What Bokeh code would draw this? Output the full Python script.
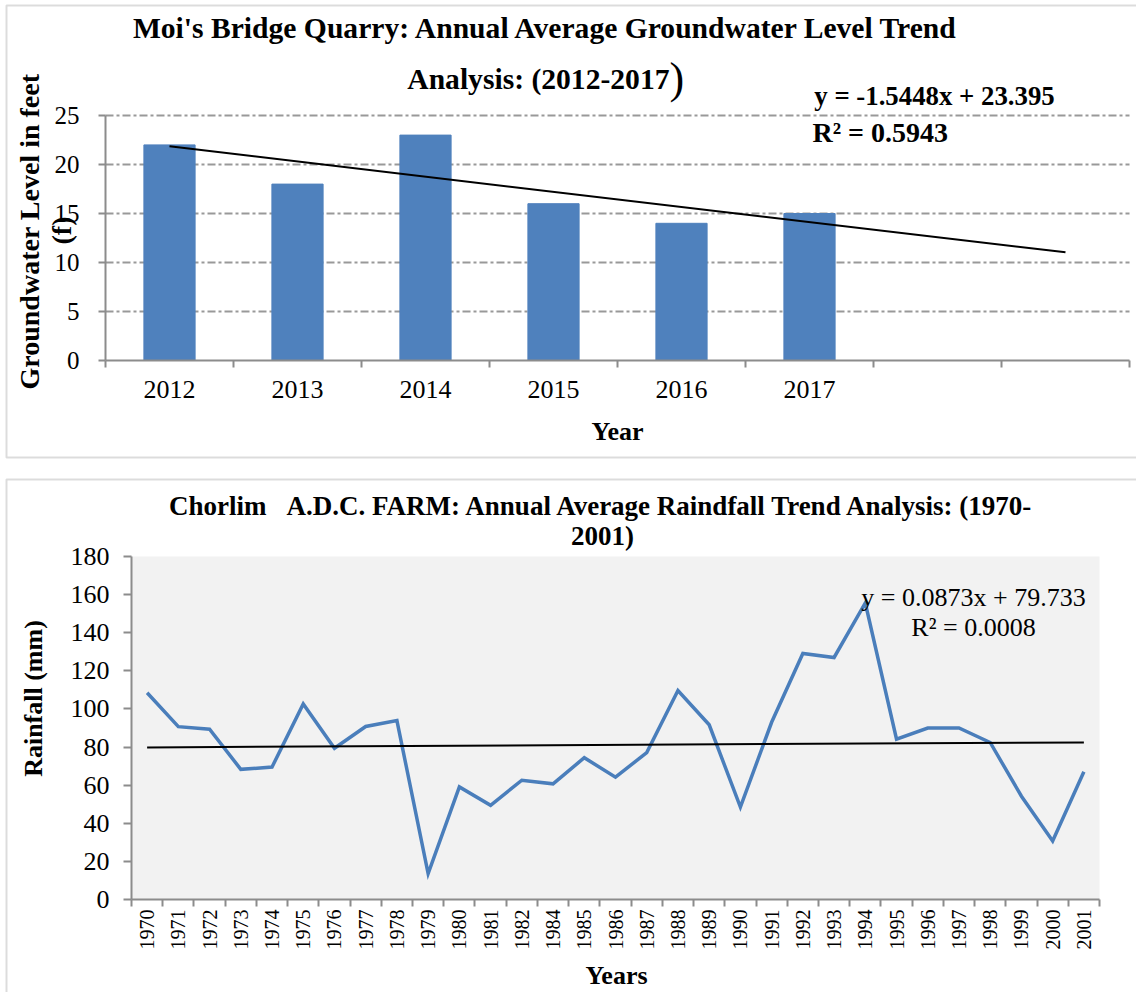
from math import pi

from bokeh.plotting import figure
from bokeh.models import Range1d, FixedTicker, Label, BoxAnnotation, LinearAxis
from bokeh.layouts import column
from bokeh.embed import file_html
from bokeh.resources import INLINE

# ---------------- data ----------------
# Chart 1: Moi's Bridge Quarry groundwater level (feet)
gw_years = ["2012", "2013", "2014", "2015", "2016", "2017"]
gw_levels = [22, 18, 23, 16, 14, 15]
gw_slots = 8                      # the category axis holds 8 slots (2 empty)
gw_slope, gw_intercept = -1.5448, 23.395
gw_r2 = 0.5943
gw_yticks = [0, 5, 10, 15, 20, 25]

# Chart 2: Chorlim A.D.C. Farm rainfall (mm)
rf_years = ["1970", "1971", "1972", "1973", "1974", "1975", "1976", "1977",
            "1978", "1979", "1980", "1981", "1982", "1984", "1985", "1986",
            "1987", "1988", "1989", "1990", "1991", "1992", "1993", "1994",
            "1995", "1996", "1997", "1998", "1999", "2000", "2001"]
rf_values = [108.5, 90.7, 89.4, 68.3, 69.5, 102.6, 79.4, 90.8,
             93.9, 13.6, 59.1, 49.4, 62.6, 60.7, 74.4, 64.2,
             77.1, 109.7, 91.7, 48.5, 93.0, 129.1, 127.0, 155.6,
             84.1, 90.0, 90.0, 82.4, 54.2, 30.7, 67.0]
rf_slope, rf_intercept = 0.0873, 79.733
rf_r2 = 0.0008
rf_yticks = [0, 20, 40, 60, 80, 100, 120, 140, 160, 180]

# ---------------- style / layout ----------------
FONT = "Liberation Serif"
BLUE = "#4f81bd"
AXIS = "#8c8c8c"
W = 1136


class Mapper:
    """Maps page pixels to data coordinates of a figure whose frame fills its canvas."""

    def __init__(self, top, height, L, R, T, B, x0, x1, y0, y1):
        self.top, self.height = top, height
        self.L, self.R, self.T, self.B = L, R, T, B
        self.x0, self.x1, self.y0, self.y1 = x0, x1, y0, y1

    def x(self, xp):
        return self.x0 + (xp - self.L) * (self.x1 - self.x0) / (self.R - self.L)

    def y(self, yp):
        return self.y0 + (self.B - yp) * (self.y1 - self.y0) / (self.B - self.T)

    def xr(self):
        return Range1d(self.x(0), self.x(W))

    def yr(self):
        return Range1d(self.y(self.top + self.height), self.y(self.top))


def make_fig(m):
    p = figure(width=W, height=m.height, output_backend="svg", toolbar_location=None,
               x_range=m.xr(), y_range=m.yr(), x_axis_location=None,
               y_axis_location=None, min_border=0, title=None)
    p.outline_line_color = None
    p.background_fill_color = "white"
    p.xgrid.visible = False
    p.ygrid.visible = False
    return p


def lab(p, m, xp, yp, text, size, bold=True, align="center",
        baseline="alphabetic", angle=0.0):
    p.add_layout(Label(x=m.x(xp), y=m.y(yp), text=text, text_font=FONT,
                       text_font_size=f"{size}px",
                       text_font_style="bold" if bold else "normal",
                       text_align=align, text_baseline=baseline,
                       text_color="black", angle=angle))


def style_axis(ax, size, standoff, tick_out):
    ax.axis_line_color = AXIS
    ax.axis_line_width = 2
    ax.major_tick_in = 0
    ax.major_tick_out = tick_out
    ax.major_tick_line_color = AXIS
    ax.major_tick_line_width = 2
    ax.minor_tick_in = 0
    ax.minor_tick_out = tick_out
    ax.minor_tick_line_color = None
    ax.minor_tick_line_width = 2
    ax.major_label_text_font = FONT
    ax.major_label_text_font_size = f"{size}px"
    ax.major_label_text_color = "black"
    ax.major_label_standoff = standoff


# ======================= chart 1 =======================
m1 = Mapper(top=0, height=466, L=105, R=1129, T=115, B=360,
            x0=0.5, x1=gw_slots + 0.5, y0=0, y1=gw_yticks[-1])
p1 = make_fig(m1)

p1.add_layout(BoxAnnotation(left=m1.x(6), right=m1.x(W + 10), top=m1.y(5), bottom=m1.y(457),
                            fill_alpha=0, line_color=AXIS, line_width=2))

gx = list(range(1, len(gw_years) + 1))
p1.segment(x0=[0.5] * (len(gw_yticks) - 1), x1=[gw_slots + 0.5] * (len(gw_yticks) - 1),
           y0=gw_yticks[1:], y1=gw_yticks[1:], line_color="#999999", line_width=2,
           line_dash="8 3 3 3")
p1.vbar(x=gx, top=gw_levels, width=0.4, color=BLUE)
tx = [1, gw_slots]
p1.line(x=tx, y=[gw_slope * t + gw_intercept for t in tx], color="black", line_width=2)

xa = LinearAxis(fixed_location=0, bounds=(0.5, gw_slots + 0.5))
xa.ticker = FixedTicker(ticks=gx, minor_ticks=[k + 0.5 for k in range(gw_slots + 1)])
xa.major_label_overrides = {i + 1: y for i, y in enumerate(gw_years)}
style_axis(xa, 26, 13, 7)
xa.major_tick_line_color = None
xa.minor_tick_line_color = AXIS
p1.add_layout(xa, "below")

ya = LinearAxis(fixed_location=0.5, bounds=(0, gw_yticks[-1]))
ya.ticker = FixedTicker(ticks=gw_yticks)
style_axis(ya, 25, 19, 7)
p1.add_layout(ya, "left")

lab(p1, m1, 546, 27, "Moi's Bridge Quarry: Annual Average Groundwater Level Trend", 29.6)
lab(p1, m1, 669, 78, "Analysis: (2012-2017", 29.6, align="right")
lab(p1, m1, 669, 77.5, ")", 44, bold=False, align="left")
lab(p1, m1, 934, 95, f"y = {gw_slope}x + {gw_intercept}", 26.8)
lab(p1, m1, 812, 132, f"R\u00b2 = {gw_r2}", 28, align="left")
lab(p1, m1, 29, 231, "Groundwater Level in feet", 28, baseline="middle", angle=pi / 2)
lab(p1, m1, 61, 230, "(f)", 28, baseline="middle", angle=pi / 2)
lab(p1, m1, 617, 431, "Year", 26)

# ======================= chart 2 =======================
m2 = Mapper(top=466, height=526, L=131, R=1099, T=556, B=899,
            x0=0.5, x1=len(rf_years) + 0.5, y0=0, y1=rf_yticks[-1])
p2 = make_fig(m2)

p2.add_layout(BoxAnnotation(left=0.5, right=len(rf_years) + 0.5, bottom=0, top=rf_yticks[-1],
                            fill_color="#f2f2f2", fill_alpha=1, line_color=None,
                            level="underlay"))
p2.add_layout(BoxAnnotation(left=m2.x(6), right=m2.x(W + 10), top=m2.y(479), bottom=m2.y(1010),
                            fill_alpha=0, line_color=AXIS, line_width=2))

rx = list(range(1, len(rf_years) + 1))
p2.line(x=rx, y=rf_values, color="#4a7ebb", line_width=3.5, line_join="miter")
tx2 = [1, len(rf_years)]
p2.line(x=tx2, y=[rf_slope * t + rf_intercept for t in tx2], color="black", line_width=2)

xa2 = LinearAxis(fixed_location=0, bounds=(0.5, len(rf_years) + 0.5))
xa2.ticker = FixedTicker(ticks=rx, minor_ticks=[k + 0.5 for k in range(len(rf_years) + 1)])
xa2.major_label_overrides = {i + 1: y for i, y in enumerate(rf_years)}
xa2.major_label_orientation = pi / 2
style_axis(xa2, 20, 3, 7)
xa2.major_tick_line_color = None
xa2.minor_tick_line_color = AXIS
p2.add_layout(xa2, "below")

ya2 = LinearAxis(fixed_location=0.5, bounds=(0, rf_yticks[-1]))
ya2.ticker = FixedTicker(ticks=rf_yticks)
style_axis(ya2, 26, 14, 8)
p2.add_layout(ya2, "left")

lab(p2, m2, 602, 505,
    "Chorlim\u00a0\u00a0\u00a0A.D.C. FARM: Annual Average Raindfall Trend Analysis: (1970-", 27)
lab(p2, m2, 602, 535, "2001)", 27)
lab(p2, m2, 973, 597, f"y = {rf_slope}x + {rf_intercept}", 26, bold=False)
lab(p2, m2, 973, 627, f"R\u00b2 = {rf_r2}", 26, bold=False)
lab(p2, m2, 33, 698, "Rainfall (mm)", 26, baseline="middle", angle=pi / 2)
lab(p2, m2, 616, 975, "Years", 26)

layout = column(p1, p2, spacing=0)
open("out.html", "w").write(file_html(layout, INLINE))
